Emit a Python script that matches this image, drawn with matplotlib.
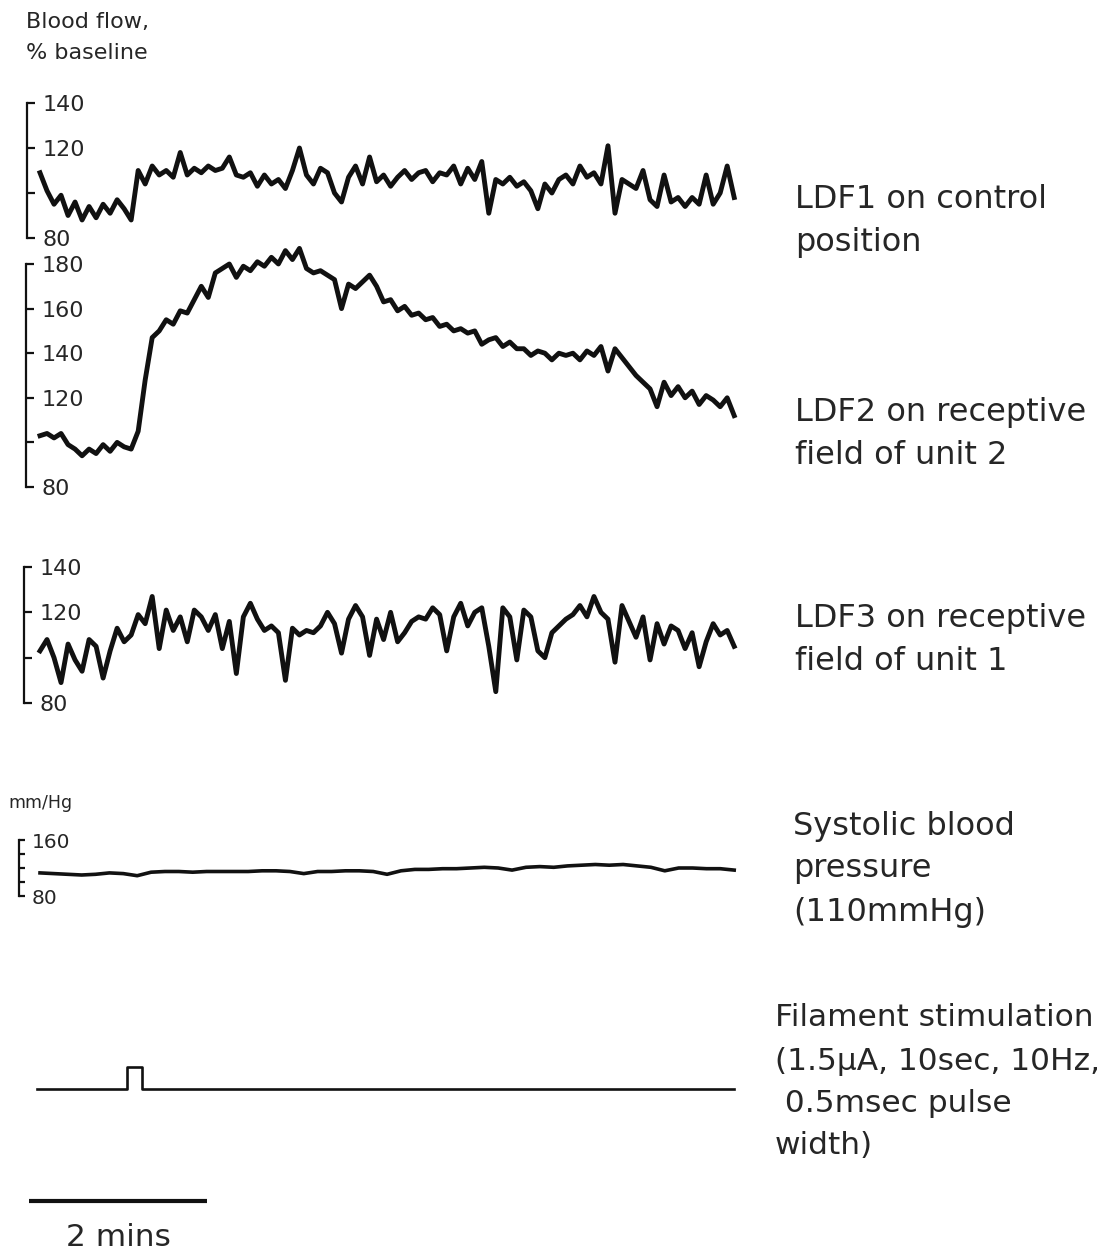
import numpy as np
import matplotlib
matplotlib.use("Agg")
import matplotlib.pyplot as plt

# ---- data (values every ~4.7 s, 0 .. 7.8 min) ----
t_end = 7.8  # minutes shown

ldf1 = [109, 101, 95, 99, 90, 96, 88, 94, 89, 95, 91, 97, 93, 88, 110, 104, 112, 108, 110, 107,
        118, 108, 111, 109, 112, 110, 111, 116, 108, 107, 109, 103, 108, 104, 106, 102, 110, 120, 108, 104,
        111, 109, 100, 96, 107, 112, 104, 116, 105, 108, 103, 107, 110, 106, 109, 110, 105, 109, 108, 112,
        104, 111, 106, 114, 91, 106, 104, 107, 103, 105, 101, 93, 104, 100, 106, 108, 104, 112, 107, 109,
        104, 121, 91, 106, 104, 102, 110, 97, 94, 108, 96, 98, 94, 98, 95, 108, 95, 100, 112, 98]

ldf2 = [103, 104, 102, 104, 99, 97, 94, 97, 95, 99, 96, 100, 98, 97, 105, 128, 147, 150, 155, 153,
        159, 158, 164, 170, 165, 176, 178, 180, 174, 179, 177, 181, 179, 183, 180, 186, 182, 187, 178, 176,
        177, 175, 173, 160, 171, 169, 172, 175, 170, 163, 164, 159, 161, 157, 158, 155, 156, 152, 153, 150,
        151, 149, 150, 144, 146, 147, 143, 145, 142, 142, 139, 141, 140, 137, 140, 139, 140, 137, 141, 139,
        143, 132, 142, 138, 134, 130, 127, 124, 116, 127, 121, 125, 120, 123, 117, 121, 119, 116, 120, 112]

ldf3 = [103, 108, 100, 89, 106, 99, 94, 108, 105, 91, 103, 113, 107, 110, 119, 115, 127, 104, 121, 112,
        118, 107, 121, 118, 112, 119, 104, 116, 93, 118, 124, 117, 112, 114, 111, 90, 113, 110, 112, 111,
        114, 120, 115, 102, 117, 123, 118, 101, 117, 108, 120, 107, 111, 116, 118, 117, 122, 119, 103, 118,
        124, 114, 120, 122, 105, 85, 122, 118, 99, 121, 118, 103, 100, 111, 114, 117, 119, 123, 118, 127,
        120, 117, 98, 123, 116, 109, 118, 99, 115, 106, 114, 112, 104, 111, 96, 107, 115, 110, 112, 105]

bp = [113, 112, 111, 110, 111, 113, 112, 109, 114, 115, 115, 114, 115, 115, 115, 115, 116, 116, 115, 112,
      115, 115, 116, 116, 115, 111, 116, 118, 118, 119, 119, 120, 121, 120, 117, 121, 122, 121, 123, 124,
      125, 124, 125, 123, 121, 116, 120, 120, 119, 119, 117]

stim_onset = 0.98      # min
stim_duration = 10.0   # sec
scalebar_min = 2.0

# ---- layout (pixels of the 1111x1255 canvas) ----
W, H = 1111, 1255
X0, PX_PER_MIN = 40.0, 89.0
INK = "#111111"
TXT = "#262626"


def px_to_min(px):
    return (px - X0) / PX_PER_MIN


fig = plt.figure(figsize=(W / 100, H / 100), dpi=100)


def add_panel(top, bottom, ylo, yhi):
    ax = fig.add_axes([0, 1 - bottom / H, 1, (bottom - top) / H])
    ax.set_xlim(px_to_min(0), px_to_min(W))
    ax.set_ylim(ylo, yhi)
    ax.patch.set_alpha(0)
    for s in ax.spines.values():
        s.set_visible(False)
    ax.set_xticks([])
    ax.set_yticks([])
    return ax


def bracket(ax, spine_px, ticks, labels, fs, tick_len=6):
    ax.yaxis.tick_right()
    sp = ax.spines["right"]
    sp.set_visible(True)
    sp.set_position(("data", px_to_min(spine_px)))
    sp.set_bounds(ticks[0], ticks[-1])
    sp.set_linewidth(1.6)
    sp.set_color(INK)
    ax.set_yticks(ticks)
    ax.set_yticklabels(labels)
    ax.tick_params(axis="y", direction="out", length=tick_len, width=1.6, pad=5,
                   labelsize=fs, labelcolor=TXT, color=INK)


def trace(ax, vals, lw):
    t = np.linspace(0, t_end, len(vals))
    ax.plot(t, vals, color=INK, lw=lw, solid_joinstyle="round", clip_on=False)


def label(x, y, s, fs, **kw):
    fig.text(x / W, 1 - y / H, s, fontsize=fs, color=TXT, va="center", ha="left", **kw)


# LDF1
ax1 = add_panel(103, 238, 80, 140)
bracket(ax1, 27, [80, 100, 120, 140], ["80", "", "120", "140"], 16)
trace(ax1, ldf1, 3.5)

# LDF2
ax2 = add_panel(264, 487, 80, 180)
bracket(ax2, 26, [80, 100, 120, 140, 160, 180], ["80", "", "120", "140", "160", "180"], 16)
trace(ax2, ldf2, 3.5)

# LDF3
ax3 = add_panel(567, 703, 80, 140)
bracket(ax3, 24, [80, 100, 120, 140], ["80", "", "120", "140"], 16)
trace(ax3, ldf3, 3.5)

# blood pressure
ax4 = add_panel(840, 896, 80, 160)
bracket(ax4, 19, [80, 100, 120, 140, 160], ["80", "", "", "", "160"], 14.5, tick_len=4)
trace(ax4, bp, 2.6)

# filament stimulation
ax5 = add_panel(1067, 1089, 0, 1)
off = stim_onset + stim_duration / 60
ax5.plot([px_to_min(37), stim_onset, stim_onset, off, off, t_end],
         [0, 0, 1, 1, 0, 0], color=INK, lw=1.9, solid_joinstyle="round", clip_on=False)

# 2 min scale bar
ax6 = add_panel(1195, 1207, -1, 1)
sb0 = px_to_min(29)
ax6.plot([sb0, sb0 + scalebar_min], [0, 0], color=INK, lw=3.0, solid_capstyle="butt")
fig.text(((sb0 + scalebar_min / 2) * PX_PER_MIN + X0) / W, 1 - 1238 / H, "2 mins",
         fontsize=22.5, color=TXT, ha="center", va="center")

# text
label(26, 22, "Blood flow,", 16)
label(26, 53, "% baseline", 16)
label(8, 803, "mm/Hg", 12.5)

label(795, 200, "LDF1 on control", 23)
label(795, 243, "position", 23)
label(795, 412, "LDF2 on receptive", 23)
label(795, 456, "field of unit 2", 23)
label(795, 618, "LDF3 on receptive", 23)
label(795, 661, "field of unit 1", 23)
label(793, 826, "Systolic blood", 23)
label(793, 868, "pressure", 23)
label(793, 912, "(110mmHg)", 23)
label(775, 1018, "Filament stimulation", 22.5)
label(775, 1061, "(1.5μA, 10sec, 10Hz,", 22.5)
label(775, 1104, " 0.5msec pulse", 22.5)
label(775, 1146, "width)", 22.5)

fig.savefig("out.png", dpi=100, facecolor="white")
